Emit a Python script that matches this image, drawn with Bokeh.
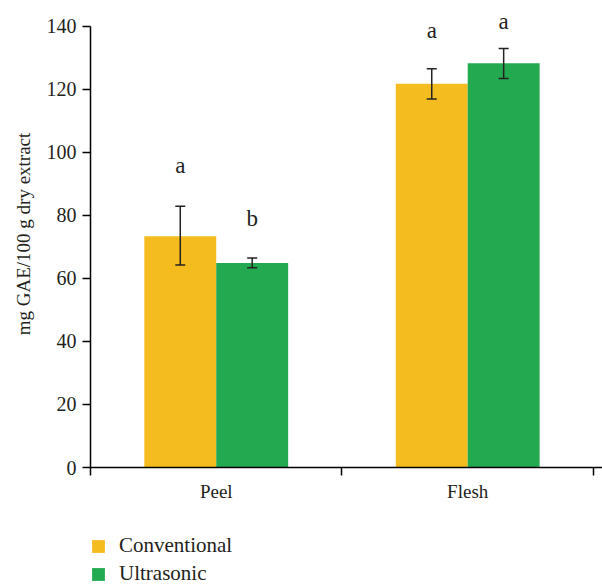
from bokeh.plotting import figure
from bokeh.layouts import column
from bokeh.models import Range1d, FixedTicker, ColumnDataSource, Whisker, Legend, LegendItem, LinearAxis
from bokeh.core.properties import value
from bokeh.embed import file_html
from bokeh.resources import INLINE

# ---- data ----
categories = ["Peel", "Flesh"]
series = ["Conventional", "Ultrasonic"]
conventional = [73.4, 121.8]
conventional_low = [64.3, 117.0]
conventional_high = [82.9, 126.6]
ultrasonic = [64.9, 128.3]
ultrasonic_low = [63.4, 123.5]
ultrasonic_high = [66.5, 133.0]
letters_conventional = ["a", "a"]
letters_ultrasonic = ["b", "a"]
letter_y_conventional = [96.0, 138.7]
letter_y_ultrasonic = [79.0, 141.6]
y_ticks = [0, 20, 40, 60, 80, 100, 120, 140]

FONT = "Liberation Serif"
TXT = "#231f20"
YELLOW = "#f5bc1f"
GREEN = "#23a950"
ERR = "#222222"

bar_w = 0.286
centers = [i + 0.5 for i in range(len(categories))]

p = figure(width=602, height=526, output_backend="svg", toolbar_location=None,
           x_range=Range1d(0, 2.036), y_range=Range1d(0, 148.25),
           min_border_left=90, min_border_right=0, min_border_top=0,
           min_border_bottom=59, x_axis_type=None, y_axis_type=None)
p.outline_line_color = None
p.xgrid.visible = False
p.ygrid.visible = False

def make_src(vals, lo, hi, letters, ly, shift):
    return ColumnDataSource(dict(
        x=[c + shift for c in centers], top=vals, lo=lo, hi=hi, lab=letters, ly=ly))

src_c = make_src(conventional, conventional_low, conventional_high, letters_conventional,
                 letter_y_conventional, -bar_w / 2)
src_u = make_src(ultrasonic, ultrasonic_low, ultrasonic_high, letters_ultrasonic,
                 letter_y_ultrasonic, bar_w / 2)

r1 = p.vbar(x="x", top="top", width=bar_w, bottom=0, source=src_c, fill_color=YELLOW, line_color=None)
r2 = p.vbar(x="x", top="top", width=bar_w, bottom=0, source=src_u, fill_color=GREEN, line_color=None)

for s in (src_c, src_u):
    w = Whisker(base="x", lower="lo", upper="hi", source=s, line_color=ERR, line_width=1.5,
                level="overlay")
    for h in (w.upper_head, w.lower_head):
        h.size = 10
        h.line_color = ERR
        h.line_width = 1.5
    p.add_layout(w)
    p.text(x="x", y="ly", text="lab", source=s, text_font=value(FONT), text_font_size="23px",
           text_color=TXT, text_align="center", text_baseline="middle")

# y axis
yax = LinearAxis(ticker=FixedTicker(ticks=y_ticks), bounds=(0, 140))
yax.axis_label = "mg GAE/100 g dry extract"
yax.axis_label_text_font = FONT
yax.axis_label_text_font_style = "normal"
yax.axis_label_text_font_size = "19px"
yax.axis_label_text_color = TXT
yax.axis_label_standoff = 10
yax.major_label_text_font = FONT
yax.major_label_text_font_size = "20px"
yax.major_label_text_color = TXT
yax.major_label_standoff = 6
yax.major_tick_out = 8
yax.major_tick_in = 0
yax.minor_tick_out = 0
yax.minor_tick_in = 0
yax.axis_line_color = "black"
yax.axis_line_width = 1.5
yax.major_tick_line_width = 1.5
p.add_layout(yax, "left")

# x axis
xax = LinearAxis(ticker=FixedTicker(ticks=centers, minor_ticks=[0, 1, 2]))
xax.major_label_overrides = {c: n for c, n in zip(centers, categories)}
xax.major_label_text_font = FONT
xax.major_label_text_font_size = "19px"
xax.major_label_text_color = TXT
xax.major_label_standoff = 5
xax.major_tick_out = 0
xax.major_tick_in = 0
xax.minor_tick_out = 8
xax.minor_tick_in = 0
xax.minor_tick_line_color = "black"
xax.minor_tick_line_width = 1.5
xax.axis_line_color = "black"
xax.axis_line_width = 1.5
p.add_layout(xax, "below")

# legend panel below the chart (same sources, drawn outside its visible range)
pl = figure(width=602, height=60, output_backend="svg", toolbar_location=None,
            x_range=Range1d(0, 2.036), y_range=Range1d(1000, 1001),
            min_border_left=0, min_border_right=0, min_border_top=0, min_border_bottom=0,
            x_axis_type=None, y_axis_type=None)
pl.outline_line_color = None
pl.xgrid.visible = False
pl.ygrid.visible = False
k1 = pl.vbar(x="x", top="top", width=bar_w, bottom=0, source=src_c, fill_color=YELLOW,
             line_color=None, fill_alpha=1)
k2 = pl.vbar(x="x", top="top", width=bar_w, bottom=0, source=src_u, fill_color=GREEN,
             line_color=None, fill_alpha=1)
legend = Legend(items=[LegendItem(label=series[0], renderers=[k1]),
                       LegendItem(label=series[1], renderers=[k2])],
                location=(0, 0), orientation="vertical")
legend.label_text_font = FONT
legend.label_text_font_size = "21px"
legend.label_text_color = TXT
legend.glyph_width = 16
legend.glyph_height = 16
legend.label_height = 16
legend.label_standoff = 13
legend.spacing = 3
legend.padding = 0
legend.margin = 0
legend.border_line_color = None
legend.background_fill_alpha = 0
pl.add_layout(legend, "center")

layout = column(p, pl, spacing=0)
open("out.html", "w").write(file_html(layout, INLINE))
